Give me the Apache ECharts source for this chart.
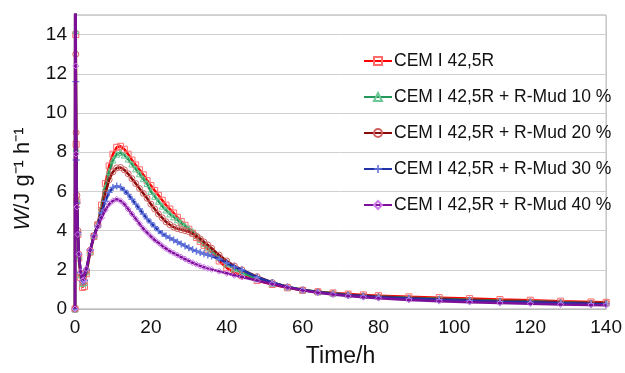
<!DOCTYPE html>
<html><head><meta charset="utf-8">
<script src="https://cdn.jsdelivr.net/npm/echarts@6/dist/echarts.min.js"></script>
<style>html,body{margin:0;padding:0;background:#fff}#c{width:625px;height:373px}</style>
</head><body><div id="c"></div>
<script>
const times = [0,0.1,0.2,0.3,0.5,0.75,1,1.5,2,2.5,3,4,5,6,7,8,9,10,11,12,13,14,15,16,17,18,19,20,21,22,23,24,25,26,27,28,29,30,31,32,33,34,35,36,38,40,42,44,48,52,56,60,64,68,72,76,80,88,96,104,112,120,128,136,140];

const cem = [0,30,14,8.4,5.5,3.8,2.6,1.6,1.1,1.15,1.8,2.9,3.7,4.3,5.3,6.4,7.3,7.9,8.25,8.3,8.15,7.9,7.6,7.35,7.1,6.85,6.55,6.3,6.05,5.8,5.55,5.3,5.1,4.9,4.68,4.47,4.27,4.07,3.87,3.65,3.45,3.25,3.05,2.9,2.45,2.1,1.85,1.7,1.45,1.25,1.08,0.95,0.88,0.82,0.76,0.72,0.68,0.62,0.58,0.53,0.48,0.45,0.4,0.36,0.34];
const mud10 = [0,30,14.2,8.2,5.6,3.9,2.7,1.75,1.3,1.35,1.9,2.95,3.75,4.3,5.2,6.2,7.0,7.6,7.9,7.98,7.85,7.65,7.4,7.15,6.9,6.65,6.4,6.0,5.75,5.5,5.25,5.05,4.85,4.7,4.55,4.4,4.25,4.1,3.95,3.75,3.55,3.35,3.15,3.0,2.65,2.3,2.05,1.85,1.55,1.3,1.12,0.98,0.88,0.8,0.73,0.68,0.64,0.57,0.52,0.47,0.42,0.39,0.35,0.31,0.3];
const mud20 = [0,30,13,9.0,5.8,4.0,2.8,1.8,1.35,1.4,1.95,3.0,3.75,4.3,5.05,5.9,6.6,7.0,7.2,7.22,7.1,6.9,6.65,6.4,6.15,5.9,5.65,5.35,5.1,4.85,4.65,4.45,4.3,4.18,4.1,4.05,4.0,3.95,3.85,3.72,3.58,3.42,3.27,3.1,2.75,2.45,2.2,2.0,1.65,1.35,1.12,0.97,0.87,0.78,0.72,0.67,0.62,0.55,0.5,0.45,0.4,0.37,0.33,0.3,0.29];
const mud30 = [0,30,11.6,7.6,5.4,3.9,2.8,1.85,1.4,1.45,2.0,3.0,3.75,4.25,4.9,5.5,5.95,6.2,6.27,6.22,6.05,5.85,5.6,5.35,5.1,4.85,4.6,4.4,4.2,4.0,3.85,3.72,3.62,3.52,3.42,3.32,3.22,3.12,3.03,2.95,2.88,2.82,2.76,2.7,2.55,2.35,2.15,2.0,1.62,1.35,1.12,0.97,0.86,0.77,0.7,0.65,0.6,0.53,0.47,0.42,0.37,0.34,0.3,0.27,0.26];
const mud40 = [0,30,12.4,7.9,5.2,3.8,2.8,1.9,1.45,1.5,2.05,3.0,3.7,4.2,4.65,5.05,5.35,5.52,5.6,5.52,5.35,5.1,4.85,4.6,4.35,4.1,3.9,3.7,3.52,3.38,3.22,3.08,2.95,2.85,2.75,2.65,2.55,2.45,2.36,2.28,2.2,2.13,2.07,2.02,1.92,1.82,1.72,1.63,1.45,1.28,1.1,0.95,0.83,0.74,0.66,0.6,0.55,0.46,0.4,0.35,0.3,0.27,0.23,0.2,0.19];

const seriesNames = ['CEM I 42,5R','CEM I 42,5R + R-Mud 10 %','CEM I 42,5R + R-Mud 20 %','CEM I 42,5R + R-Mud 30 %','CEM I 42,5R + R-Mud 40 %'];
const seriesValues = [cem, mud10, mud20, mud30, mud40];
const xTicks = [0,20,40,60,80,100,120,140];
const yTicks = [0,2,4,6,8,10,12,14];

const lineColors = ['#ff0000','#23985a','#8b0a0a','#2233a8','#7d0f98'];
const markColors = ['#ff6a6a','#6cc895','#d06060','#6677dd','#cc7ae8'];
const symbols = ['rect','triangle','circle','path://M4,0h2v4h4v2h-4v4h-2v-4h-4v-2h4z','diamond'];

const chart = echarts.init(document.getElementById('c'));
const series = seriesNames.map((n,i)=>({
  name:n, type:'line', clip:true,
  data: times.map((t,j)=>[t, seriesValues[i][j]]),
  symbol: symbols[i], symbolSize: i===3 ? 7 : 6,
  showAllSymbol: true,
  lineStyle:{color:lineColors[i], width:2.5},
  itemStyle: i===3 ? {color:markColors[i]} : {color:'rgba(255,255,255,0)', borderColor:markColors[i], borderWidth:1},
  emphasis:{disabled:true}, animation:false, z: 2+i
}));

const font = 'Liberation Sans, Arial';
chart.setOption({
  animation:false,
  grid:{left:75, right:13, top:15, bottom:59, show:true, borderColor:'#a8a8a8', borderWidth:1},
  xAxis:{type:'value', min:0, max:140, interval:20,
    axisLine:{show:true, lineStyle:{color:'#bbb'}}, axisTick:{show:false}, splitLine:{show:false},
    axisLabel:{color:'#111', fontSize:19, fontFamily:font, margin:9,
      formatter:v=> xTicks.includes(v) ? String(v) : ''},
    name:'Time/h', nameLocation:'middle', nameGap:36,
    nameTextStyle:{color:'#111', fontSize:23, fontFamily:font}},
  yAxis:{type:'value', min:0, max:15, interval:2,
    axisLine:{show:false}, axisTick:{show:false},
    splitLine:{show:true, lineStyle:{color:'#d0d0d0', width:1}},
    axisLabel:{color:'#111', fontSize:19, fontFamily:font, margin:8, showMaxLabel:false,
      formatter:v=> yTicks.includes(v) ? String(v) : ''}},
  legend:{orient:'vertical', left:358, top:47, itemWidth:28, itemHeight:10, itemGap:18,
    data:seriesNames,
    textStyle:{color:'#111', fontSize:17.5, fontFamily:font, lineHeight:18, padding:[0,0,0,-3]}},
  graphic:[{type:'text', x:23, y:179, rotation:Math.PI/2,
    style:{text:'{i|W}/J g⁻¹ h⁻¹', fill:'#111', fontSize:22, fontFamily:font, align:'center', verticalAlign:'middle',
      rich:{i:{fontStyle:'italic', fontSize:22, fontFamily:font, fill:'#111'}}}}],
  series: series
});
</script></body></html>
